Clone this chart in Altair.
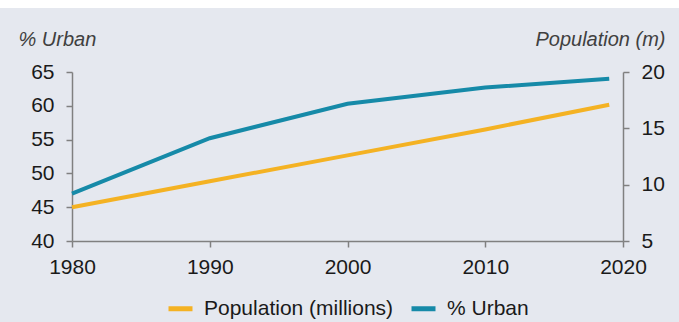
import altair as alt
import pandas as pd

# Urbanisation and population, 1980-2019
years = [1980, 1990, 2000, 2010, 2019]
urban_pct = [47.0, 55.2, 60.3, 62.7, 64.0]
population_m = [8.0, 10.3, 12.6, 14.9, 17.1]

series_names = ["Population (millions)", "% Urban"]
series_colors = ["#F4B223", "#168AA8"]

FONT = "Liberation Sans"
BG = "#E5E8EF"

urban_df = pd.DataFrame({"year": years, "value": urban_pct, "series": "% Urban"})
pop_df = pd.DataFrame({"year": years, "value": population_m, "series": "Population (millions)"})

color = alt.Color(
    "series:N",
    scale=alt.Scale(domain=series_names, range=series_colors),
    legend=alt.Legend(
        title=None,
        orient="none",
        legendX=94,
        legendY=222,
        direction="horizontal",
        padding=0,
        symbolType="stroke",
        symbolSize=576,
        symbolStrokeWidth=5,
        labelFontSize=21,
        labelFont=FONT,
        labelColor="#1a1a1a",
        labelLimit=0,
        labelOffset=9,
        columnPadding=7,
    ),
)

x = alt.X(
    "year:Q",
    scale=alt.Scale(domain=[1980, 2020], nice=False, zero=False),
    axis=alt.Axis(values=[1980, 1990, 2000, 2010, 2020], format="d", title=None,
                  labelPadding=9, labelFlush=False),
)

axis_common = dict(
    grid=False,
    domainColor="#808080",
    domainWidth=1.5,
    tickColor="#808080",
    tickWidth=1.5,
    tickSize=6,
    labelFont=FONT,
    labelFontSize=21,
    labelColor="#1a1a1a",
    labelFlush=False,
    titleFont=FONT,
    titleFontSize=20,
    titleFontStyle="italic",
    titleFontWeight="normal",
    titleColor="#404040",
    titleAngle=0,
    titleBaseline="alphabetic",
)

urban_line = alt.Chart(urban_df).mark_line(strokeWidth=4).encode(
    x=x,
    y=alt.Y(
        "value:Q",
        scale=alt.Scale(domain=[40, 65], nice=False, zero=False),
        axis=alt.Axis(
            orient="left",
            values=[40, 45, 50, 55, 60, 65],
            title="% Urban",
            titleAlign="left",
            titleX=-54,
            titleY=-27,
            labelPadding=12,
            **axis_common,
        ),
    ),
    color=color,
)

pop_line = alt.Chart(pop_df).mark_line(strokeWidth=4).encode(
    x=x,
    y=alt.Y(
        "value:Q",
        scale=alt.Scale(domain=[5, 20], nice=False, zero=False),
        axis=alt.Axis(
            orient="right",
            values=[5, 10, 15, 20],
            title="Population (m)",
            titleAlign="right",
            titleX=42,
            titleY=-27,
            labelPadding=12,
            **axis_common,
        ),
    ),
    color=color,
)

# thin white band across the top edge
top_band = alt.Chart(pd.DataFrame({"k": [0]})).mark_rect(color="white").encode(
    x=alt.value(-72), x2=alt.value(607), y=alt.value(-72), y2=alt.value(-64)
)

chart = (
    alt.layer(top_band, pop_line, urban_line)
    .resolve_scale(y="independent")
    .properties(
        width=551,
        height=169,
        autosize=alt.AutoSizeParams(type="none"),
        padding={"left": 72, "top": 72, "right": 56, "bottom": 81},
        background=BG,
    )
    .configure_view(stroke=None)
    .configure_axisX(
        grid=False,
        domainColor="#808080",
        domainWidth=1.5,
        tickColor="#808080",
        tickWidth=1.5,
        tickSize=6,
        labelFont=FONT,
        labelFontSize=21,
        labelColor="#1a1a1a",
    )
)

chart.save("out.html", embed_options={"renderer": "svg", "actions": False})
